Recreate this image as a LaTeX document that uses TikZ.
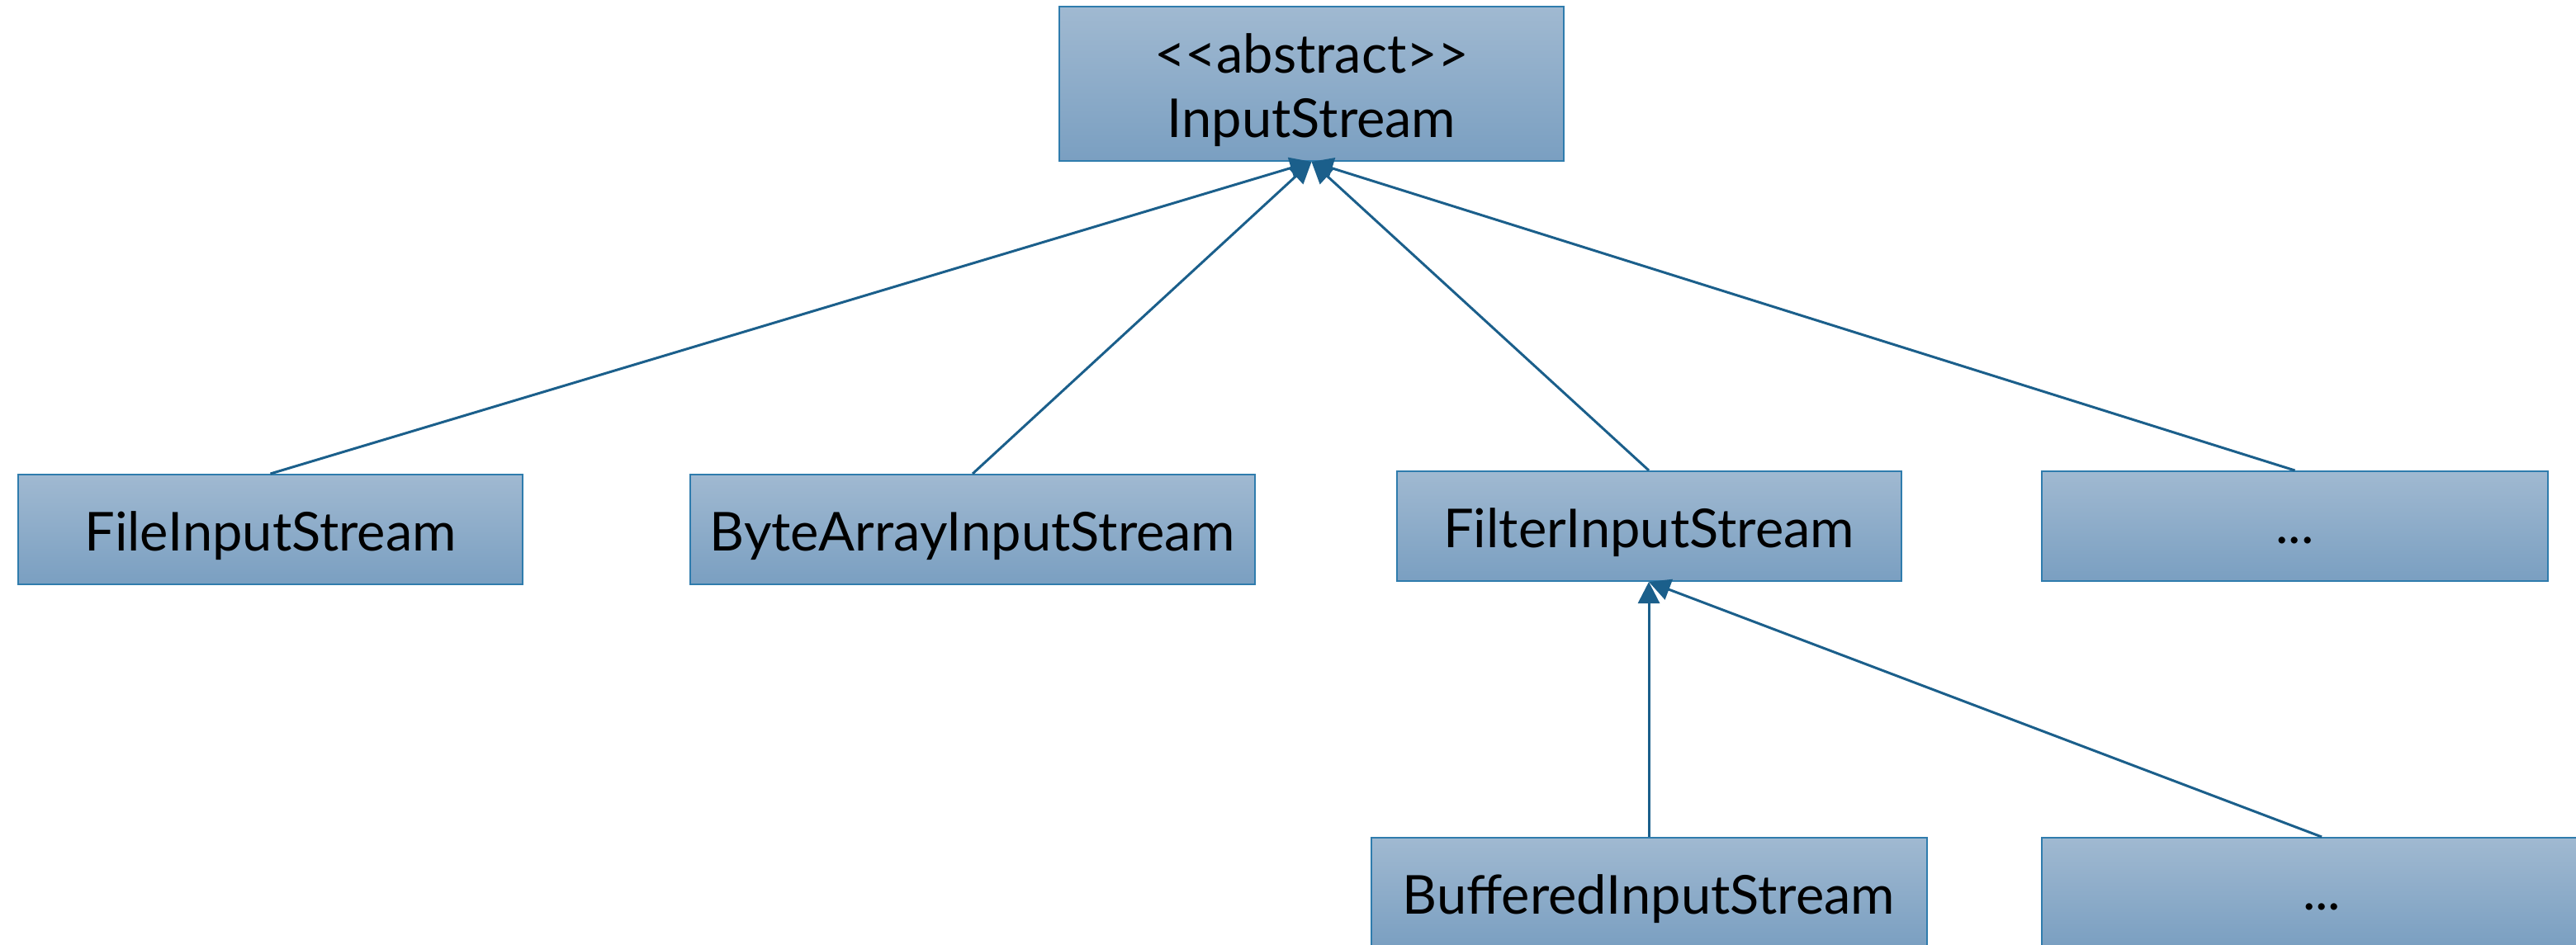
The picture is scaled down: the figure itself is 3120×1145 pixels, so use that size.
\documentclass[tikz,border=0pt]{standalone}
\usepackage{fontspec}
\setmainfont{Lato}
\usetikzlibrary{arrows.meta}
\definecolor{boxtop}{HTML}{A0B9D1}
\definecolor{boxbot}{HTML}{7A9FC1}
\definecolor{boxedge}{HTML}{2F7CAD}
\definecolor{arr}{HTML}{1B5F8B}
\begin{document}
\begin{tikzpicture}[x=0.5pt,y=-0.5pt,
  cls/.style={draw=boxedge, line width=1pt, top color=boxtop, bottom color=boxbot,
    inner sep=0pt, font=\fontsize{32.5}{39}\selectfont, align=center,
    minimum height=66.5pt, minimum width=305.5pt},
  oneline/.style={text height=32pt, text depth=6pt},
  dotsline/.style={text height=21pt, text depth=0pt},
  inh/.style={draw=arr, line width=1.5pt, -{Triangle[length=13pt,width=13pt]}}]
\useasboundingbox (0,0) rectangle (3120,1145);
\clip (0,0) rectangle (3120,1145);
\node[cls, minimum height=93.5pt] (top) at (1588.5,101.5) {\rule{0pt}{32pt}<{}<abstract>{}>\\InputStream};
\node[cls, oneline] (file) at (327.5,641.5) {FileInputStream};
\node[cls, oneline, minimum width=342pt] (byte) at (1178,641.5) {ByteArrayInputStream};
\node[cls, oneline] (filter) at (1997,637.5) {FilterInputStream};
\node[cls, dotsline, minimum width=306.5pt] (dotsA) at (2779.5,637.5) {...};
\node[cls, oneline, minimum width=336.5pt] (buf) at (1997,1081.5) {BufferedInputStream};
\node[cls, dotsline, minimum width=339pt] (dotsB) at (2812,1081.5) {...};
\draw[inh] (file.north) -- (top.south);
\draw[inh] (byte.north) -- (top.south);
\draw[inh] (filter.north) -- (top.south);
\draw[inh] (dotsA.north) -- (top.south);
\draw[inh] (buf.north) -- (filter.south);
\draw[inh] (dotsB.north) -- (filter.south);
\end{tikzpicture}
\end{document}
